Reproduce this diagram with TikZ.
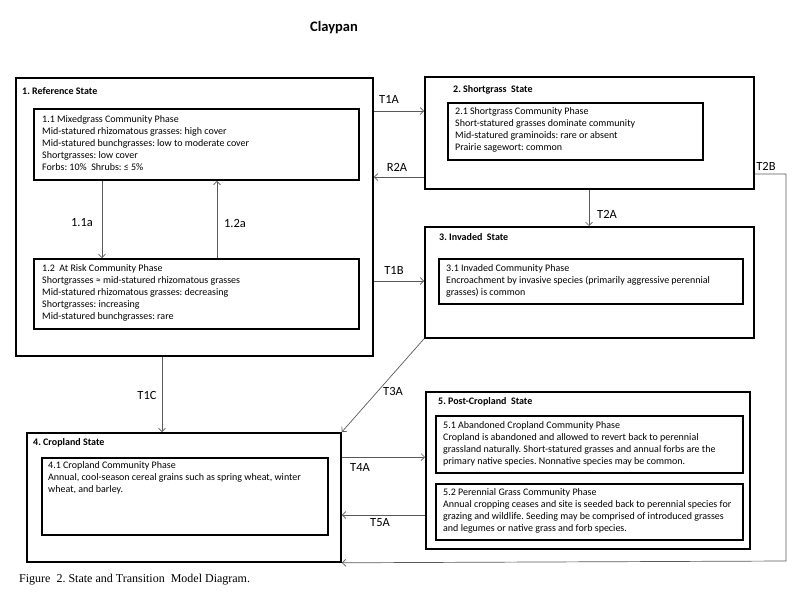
\documentclass[tikz,border=0pt]{standalone}
\usepackage{fontspec}
\setmainfont{Carlito}
\newfontfamily\capfont{Liberation Serif}
\usetikzlibrary{arrows.meta}
\frenchspacing
\tikzset{
  stbox/.style={draw=black, line width=1.8pt, inner sep=0pt, anchor=north west},
  txt/.style={font=\fontsize{10}{12}\selectfont, align=left, inner sep=0pt, anchor=north west},
  sttitle/.style={font=\bfseries\fontsize{10}{12}\selectfont, inner sep=0pt, anchor=west},
  lbl/.style={font=\fontsize{12.5}{14}\selectfont, inner sep=0pt},
  conn/.style={draw=black!65, line width=0.7pt, -{Straight Barb[length=3.5pt,width=7pt]}},
}
\begin{document}
\begin{tikzpicture}[x=1pt,y=-1pt]
\useasboundingbox (0,0) rectangle (800,600);
% title
\node[font=\bfseries\fontsize{14.5}{16}\selectfont, inner sep=0pt] (title) at (334,28) {Claypan};
% state boxes
\node[stbox, minimum width=357pt, minimum height=278pt] (s1) at (15,77) {};
\node[stbox, minimum width=329pt, minimum height=112pt] (s2) at (424,76) {};
\node[stbox, minimum width=329pt, minimum height=111pt] (s3) at (424,226) {};
\node[stbox, minimum width=314pt, minimum height=129pt] (s4) at (26,432) {};
\node[stbox, minimum width=324pt, minimum height=157pt] (s5) at (425,391) {};
% phase boxes
\node[stbox, minimum width=325pt, minimum height=71pt] (p11) at (33,108) {};
\node[stbox, minimum width=325pt, minimum height=70pt] (p12) at (33,258) {};
\node[stbox, minimum width=255pt, minimum height=57pt] (p21) at (447,102) {};
\node[stbox, minimum width=304pt, minimum height=45pt] (p31) at (438,258) {};
\node[stbox, minimum width=286pt, minimum height=77pt] (p41) at (41,457) {};
\node[stbox, minimum width=307pt, minimum height=57pt] (p51) at (435,415) {};
\node[stbox, minimum width=307pt, minimum height=56pt] (p52) at (435,483) {};
% state titles
\node[sttitle] (t1) at (22,91) {1. Reference State};
\node[sttitle] (t2) at (453,90) {2. Shortgrass\ \ State};
\node[sttitle] (t3) at (439,237) {3. Invaded\ \ State};
\node[sttitle] (t4) at (33,443) {4. Cropland State};
\node[sttitle] (t5) at (438,402) {5. Post-Cropland\ \ State};
% phase texts
\node[txt] (x11) at (42,115.5) {1.1 Mixedgrass Community Phase\\Mid-statured rhizomatous grasses: high cover\\Mid-statured bunchgrasses: low to moderate cover\\Shortgrasses: low cover\\Forbs: 10\%\ \ Shrubs: ≤ 5\%};
\node[txt] (x12) at (42,264) {1.2\ \ At Risk Community Phase\\Shortgrasses ≈ mid-statured rhizomatous grasses\\Mid-statured rhizomatous grasses: decreasing\\Shortgrasses: increasing\\Mid-statured bunchgrasses: rare};
\node[txt] (x21) at (455,107) {2.1 Shortgrass Community Phase\\Short-statured grasses dominate community\\Mid-statured graminoids: rare or absent\\Prairie sagewort: common};
\node[txt] (x31) at (446,264) {3.1 Invaded Community Phase\\Encroachment by invasive species (primarily aggressive perennial\\grasses) is common};
\node[txt] (x41) at (48,461) {4.1 Cropland Community Phase\\Annual, cool-season cereal grains such as spring wheat, winter\\wheat, and barley.};
\node[txt] (x51) at (443,421) {5.1 Abandoned Cropland Community Phase\\Cropland is abandoned and allowed to revert back to perennial\\grassland naturally. Short-statured grasses and annual forbs are the\\primary native species. Nonnative species may be common.};
\node[txt] (x52) at (443,488) {5.2 Perennial Grass Community Phase\\Annual cropping ceases and site is seeded back to perennial species for\\grazing and wildlife. Seeding may be comprised of introduced grasses\\and legumes or native grass and forb species.};
% connectors
\coordinate (t2bc) at (786,561);
\draw[conn] ([yshift=-34pt]s1.north east) -- ([yshift=-35pt]s2.north west);
\draw[conn] ([yshift=-101pt]s2.north west) -- ([yshift=-100pt]s1.north east);
\draw[conn] ([yshift=-98pt]s2.north east) -| (t2bc) -- (s4.south east);
\draw[conn] ([xshift=165pt]s2.south west) -- ([xshift=165pt]s3.north west);
\draw[conn] ([yshift=-204pt]s1.north east) -- ([yshift=-55pt]s3.north west);
\draw[conn] (s3.south west) -- (s4.north east);
\draw[conn] ([xshift=147pt]s1.south west) -- ([xshift=136pt]s4.north west);
\draw[conn] ([yshift=-25pt]s4.north east) -- ([yshift=-66pt]s5.north west);
\draw[conn] ([yshift=-124pt]s5.north west) -- ([yshift=-83pt]s4.north east);
\draw[conn] ([xshift=69pt]p11.south west) -- ([xshift=69pt]p12.north west);
\draw[conn] ([xshift=184pt]p12.north west) -- ([xshift=184pt]p11.south west);
% labels
\node[lbl] (lT1A) at (389,99) {T1A};
\node[lbl] (lR2A) at (397,167) {R2A};
\node[lbl] (lT2B) at (766,166) {T2B};
\node[lbl] (lT2A) at (607,214) {T2A};
\node[lbl] (lT1B) at (394,270) {T1B};
\node[lbl] (lT3A) at (393,391) {T3A};
\node[lbl] (lT1C) at (147,395) {T1C};
\node[lbl] (lT4A) at (360,467) {T4A};
\node[lbl] (lT5A) at (380,523) {T5A};
\node[lbl] (l11a) at (82,223) {1.1a};
\node[lbl] (l12a) at (235,223) {1.2a};
% caption
\node[font=\capfont\fontsize{12}{14}\selectfont, inner sep=0pt, anchor=west] (cap) at (19,580) {Figure\ \ 2. State and Transition\ \ Model Diagram.};
\end{tikzpicture}
\end{document}
